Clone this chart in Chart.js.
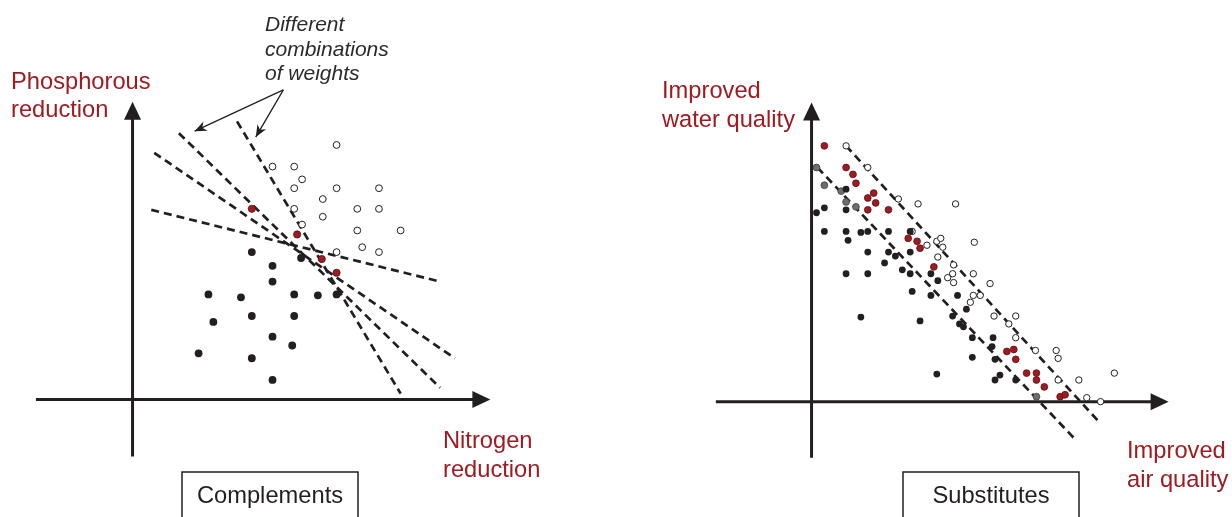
<!DOCTYPE html>
<html>
<head>
<meta charset="utf-8">
<script src="https://cdn.jsdelivr.net/npm/chart.js@4.4.1/dist/chart.umd.min.js"></script>
<style>
html, body { margin: 0; padding: 0; background: #fff; }
#wrap { position: relative; width: 1232px; height: 517px; overflow: hidden; }
.panel { position: absolute; top: 0; width: 616px; height: 517px; }
</style>
</head>
<body>
<div id="wrap">
  <div class="panel" style="left:0"><canvas id="chart_complements" width="616" height="517"></canvas></div>
  <div class="panel" style="left:616px"><canvas id="chart_substitutes" width="616" height="517"></canvas></div>
</div>
<script>
// values, origin = where the two axes cross
var compHollow = [[207,259],[142,237],[164,237],[172,224],[164,215],[207,215],[250,215],[193,204],[164,194],
    [228,194],[250,194],[193,186],[172,178],[228,172],[272,172],[233,155],[207,150],[250,150]];
var compRed = [[121,194],[167,168],[192,143],[207,129]];
var compBlack = [[121,150],[171,144],[142,136],[142,120],[77,107],[110,104],[164,107],[188,106],[207,107],
    [121,85],[164,85],[82,79],[142,64],[162,55],[67,47],[121,42],[142,20]];
var compLines = [[[19,193],[312,120]], [[22,251],[327,42]], [[47,271],[312,12]], [[106,283],[272,6]]];

var subRed = [[13,260],[35,238],[42,231],[45,222],[57,207],[63,212],[65,202],[57,195],[78,195],[98,166],
    [107,163],[110,156],[124,137],[198,51],[205,53],[207,43],[218,29],[228,29],[228,22],[236,15],[252,5],[257,7]];
var subGrey = [[5,238],[13,220],[30,214],[35,203],[45,198],[228,5]];
var subHollow = [[35,260],[57,238],[88,206],[108,201],[146,201],[102,173],[117,159],[127,163],[131,166],
    [133,157],[128,147],[165,162],[144,139],[143,130],[138,126],[144,121],[164,130],[181,120],[164,108],
    [171,108],[161,101],[185,87],[207,87],[200,79],[207,65],[227,52],[248,52],[250,44],[250,22],[271,22],
    [307,29],[279,4],[293,0]];
var subBlack = [[5,192],[13,197],[35,216],[35,195],[13,173],[35,173],[37,164],[50,172],[57,173],[57,152],
    [78,173],[100,173],[35,130],[57,130],[74,141],[78,152],[85,148],[100,152],[92,134],[100,130],[121,130],
    [128,123],[102,112],[121,108],[50,86],[110,82],[148,108],[157,94],[143,87],[150,79],[154,76],[163,65],
    [184,65],[183,56],[163,45],[186,43],[127,28],[186,22],[191,27],[207,22]];
var subLines = [[[6,238],[266,-37]], [[35,260],[290,-19]]];

var INK = '#231f20';
var RED = '#9e1b21';
var GREY = '#6d6e71';

function pts(list) {
    return list.map(function (p) { return {x: p[0], y: p[1]}; });
}

function dots(list, fill, border, radius, bw) {
    return {
        type: 'scatter',
        data: pts(list),
        pointRadius: radius,
        backgroundColor: fill,
        borderColor: border,
        borderWidth: bw,
        pointHoverRadius: radius
    };
}

function dashed(line) {
    return {
        type: 'line',
        data: pts(line),
        showLine: true,
        pointRadius: 0,
        borderColor: INK,
        borderWidth: 2.7,
        borderDash: [8, 5],
        fill: false
    };
}

function arrowHead(ctx, fx, fy, tx, ty, len, half) {
    var a = Math.atan2(ty - fy, tx - fx);
    ctx.beginPath();
    ctx.moveTo(tx, ty);
    ctx.lineTo(tx - len * Math.cos(a) + half * Math.sin(a), ty - len * Math.sin(a) - half * Math.cos(a));
    ctx.lineTo(tx - len * 0.7 * Math.cos(a), ty - len * 0.7 * Math.sin(a));
    ctx.lineTo(tx - len * Math.cos(a) - half * Math.sin(a), ty - len * Math.sin(a) + half * Math.cos(a));
    ctx.closePath();
    ctx.fill();
}

var diagramPlugin = {
    id: 'diagram',
    beforeDatasetsDraw: function (chart, args, opts) {
        var ctx = chart.ctx, x = chart.scales.x, y = chart.scales.y;
        var ox = x.getPixelForValue(0), oy = y.getPixelForValue(0);
        ctx.save();
        ctx.strokeStyle = INK;
        ctx.fillStyle = INK;
        ctx.lineWidth = 3;
        var xa = x.getPixelForValue(opts.xAxis[0]), xb = x.getPixelForValue(opts.xAxis[1]);
        ctx.beginPath(); ctx.moveTo(xa, oy); ctx.lineTo(xb - 14, oy); ctx.stroke();
        ctx.beginPath(); ctx.moveTo(xb, oy); ctx.lineTo(xb - 18, oy - 8.5); ctx.lineTo(xb - 18, oy + 8.5); ctx.closePath(); ctx.fill();
        var ya = y.getPixelForValue(opts.yAxis[0]), yb = y.getPixelForValue(opts.yAxis[1]);
        ctx.beginPath(); ctx.moveTo(ox, ya); ctx.lineTo(ox, yb + 14); ctx.stroke();
        ctx.beginPath(); ctx.moveTo(ox, yb); ctx.lineTo(ox - 8.5, yb + 18); ctx.lineTo(ox + 8.5, yb + 18); ctx.closePath(); ctx.fill();
        ctx.restore();
    },
    afterDraw: function (chart, args, opts) {
        var ctx = chart.ctx, x = chart.scales.x, y = chart.scales.y;
        ctx.save();
        if (opts.pointers) {
            var p = opts.pointers;
            var fx = x.getPixelForValue(p.from[0]), fy = y.getPixelForValue(p.from[1]);
            ctx.strokeStyle = INK;
            ctx.fillStyle = INK;
            ctx.lineWidth = 1.3;
            p.to.forEach(function (t) {
                var tx = x.getPixelForValue(t[0]), ty = y.getPixelForValue(t[1]);
                ctx.beginPath(); ctx.moveTo(fx, fy); ctx.lineTo(tx, ty); ctx.stroke();
                arrowHead(ctx, fx, fy, tx, ty, 12, 5);
            });
        }
        if (opts.box) {
            var b = opts.box;
            ctx.strokeStyle = INK;
            ctx.lineWidth = 1.5;
            ctx.strokeRect(b.x, b.y, b.w, b.h);
            ctx.fillStyle = INK;
            ctx.font = LABEL_FONT;
            ctx.textAlign = 'center';
            ctx.textBaseline = 'alphabetic';
            ctx.fillText(b.text, b.x + b.w / 2, b.ty);
        }
        ctx.textAlign = 'left';
        ctx.textBaseline = 'alphabetic';
        (opts.labels || []).forEach(function (l) {
            ctx.fillStyle = l.color;
            ctx.font = l.font;
            ctx.fillText(l.text, l.x, l.y);
        });
        ctx.restore();
    }
};

var LABEL_FONT = '23.7px "Liberation Sans", Arial, sans-serif';
var NOTE_FONT = 'italic 21px "Liberation Sans", Arial, sans-serif';

function baseOptions(xr, yr, diagram) {
    return {
        animation: false,
        responsive: false,
        events: [],
        layout: { padding: 0 },
        plugins: {
            legend: { display: false },
            tooltip: { enabled: false },
            diagram: diagram
        },
        scales: {
            x: { type: 'linear', display: false, min: xr[0], max: xr[1] },
            y: { type: 'linear', display: false, min: yr[0], max: yr[1] }
        }
    };
}

var chart_complements = new Chart(document.getElementById('chart_complements'), {
    type: 'scatter',
    data: {
        datasets: [
            dots(compBlack, INK, INK, 3.9, 0),
            dots(compRed, RED, '#5a1013', 3.6, 0.8),
            dots(compHollow, '#fff', INK, 3.4, 1)
        ].concat(compLines.map(dashed))
    },
    options: baseOptions([-130, 486], [-115, 402], {
        xAxis: [-98, 363],
        yAxis: [-58, 303],
        pointers: { from: [153, 315], to: [[63, 273], [125, 267]] },
        box: { x: 182, y: 472, w: 176, h: 60, ty: 503, text: 'Complements' },
        labels: [
            { text: 'Phosphorous', x: 11, y: 89, color: RED, font: LABEL_FONT },
            { text: 'reduction', x: 11, y: 117, color: RED, font: LABEL_FONT },
            { text: 'Nitrogen', x: 443, y: 448, color: RED, font: LABEL_FONT },
            { text: 'reduction', x: 443, y: 477, color: RED, font: LABEL_FONT },
            { text: 'Different', x: 265, y: 31, color: '#2b2b2b', font: NOTE_FONT },
            { text: 'combinations', x: 265, y: 56, color: '#2b2b2b', font: NOTE_FONT },
            { text: 'of weights', x: 265, y: 80, color: '#2b2b2b', font: NOTE_FONT }
        ]
    }),
    plugins: [diagramPlugin]
});

var chart_substitutes = new Chart(document.getElementById('chart_substitutes'), {
    type: 'scatter',
    data: {
        datasets: [
            dots(subBlack, INK, INK, 3.4, 0),
            dots(subGrey, GREY, '#3c3c3c', 3.4, 0.8),
            dots(subRed, RED, '#5a1013', 3.4, 0.8),
            dots(subHollow, '#fff', INK, 3.2, 1)
        ].concat(subLines.map(dashed))
    },
    options: baseOptions([-194, 422], [-113, 404], {
        xAxis: [-97, 362],
        yAxis: [-57, 304],
        box: { x: 287, y: 472, w: 176, h: 60, ty: 503, text: 'Substitutes' },
        labels: [
            { text: 'Improved', x: 46, y: 98, color: RED, font: LABEL_FONT },
            { text: 'water quality', x: 46, y: 127, color: RED, font: LABEL_FONT },
            { text: 'Improved', x: 511, y: 458, color: RED, font: LABEL_FONT },
            { text: 'air quality', x: 511, y: 487, color: RED, font: LABEL_FONT }
        ]
    }),
    plugins: [diagramPlugin]
});
</script>
</body>
</html>
